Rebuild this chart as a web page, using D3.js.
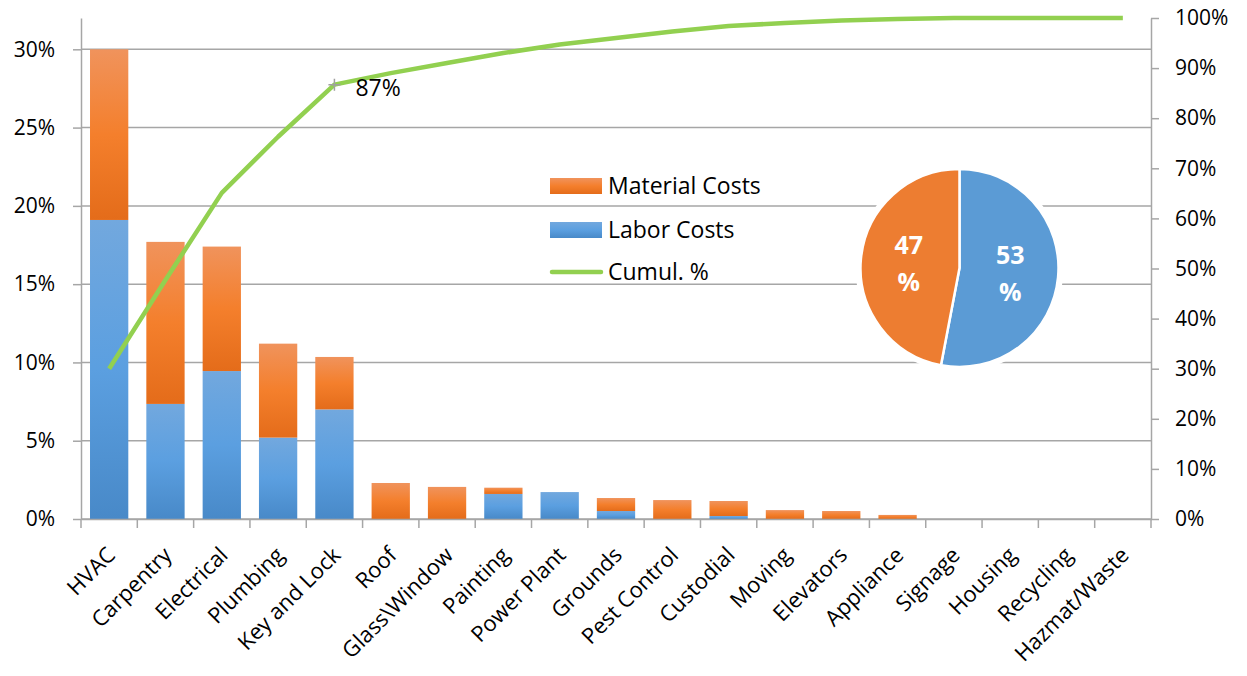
<!DOCTYPE html>
<html>
<head>
<meta charset="utf-8">
<script src="https://cdn.jsdelivr.net/npm/d3@7"></script>
<style>
  body { margin: 0; background: #fff; }
  text { font-family: "Open Sans", sans-serif; fill: #000; }
</style>
</head>
<body>
<div id="chart"></div>
<script>
// categories, sorted by total share of cost
const categories = [
  "HVAC", "Carpentry", "Electrical", "Plumbing", "Key and Lock", "Roof",
  "Glass\\Window", "Painting", "Power Plant", "Grounds", "Pest Control",
  "Custodial", "Moving", "Elevators", "Appliance", "Signage", "Housing",
  "Recycling", "Hazmat/Waste",
];
// share of total cost, in %
const laborCosts = [19.1, 7.35, 9.45, 5.2, 7.0, 0, 0, 1.6, 1.72, 0.51, 0, 0.19, 0, 0, 0, 0, 0, 0, 0];
const materialCosts = [10.9, 10.35, 7.95, 6.0, 3.35, 2.3, 2.05, 0.4, 0, 0.83, 1.21, 0.96, 0.57, 0.51, 0.26, 0, 0, 0, 0];
const cumulPct = [30, 47.7, 65.1, 76.3, 86.7, 89.0, 91.0, 93.0, 94.7, 96.0, 97.3, 98.4, 99.0, 99.5, 99.8, 100, 100, 100, 100];
const leftTicks = [0, 5, 10, 15, 20, 25, 30];
const rightTicks = [0, 10, 20, 30, 40, 50, 60, 70, 80, 90, 100];
// labor vs material split
const pieNames = ["Labor Costs", "Material Costs"];
const pieValues = [53, 47];
const markedIndex = 4; // "87%" callout

const W = 1247, H = 676;
const plotLeft = 81, plotRight = 1151, plotTop = 18, plotBottom = 519;
const gridColor = "#a6a6a6";

const svg = d3.select("#chart").append("svg")
  .attr("width", W).attr("height", H);

// gradients like the office fill
const defs = svg.append("defs");
const addGrad = (id, stops) => {
  const g = defs.append("linearGradient").attr("id", id)
    .attr("x1", 0).attr("y1", 0).attr("x2", 0).attr("y2", 1);
  stops.forEach(([o, c]) => g.append("stop").attr("offset", o).attr("stop-color", c));
};
addGrad("gOrange", [["0%", "#f0935c"], ["50%", "#f47f2c"], ["100%", "#e46c1a"]]);
addGrad("gBlue", [["0%", "#72a8de"], ["50%", "#5b9fe0"], ["100%", "#4889c8"]]);

const x = d3.scaleBand().domain(categories).range([plotLeft, plotRight])
  .paddingInner(0.32).paddingOuter(0.16);
const y = d3.scaleLinear().domain([0, 32]).range([plotBottom, plotTop]);
const y2 = d3.scaleLinear().domain([0, 100]).range([plotBottom, plotTop]);

// gridlines
svg.append("g").selectAll("line").data(leftTicks).join("line")
  .attr("x1", plotLeft).attr("x2", plotRight)
  .attr("y1", (d) => y(d)).attr("y2", (d) => y(d))
  .attr("stroke", gridColor).attr("stroke-width", 1.5);

// stacked bars
const barG = svg.append("g");
categories.forEach((c, i) => {
  const lab = laborCosts[i], mat = materialCosts[i];
  if (lab > 0) {
    barG.append("rect")
      .attr("x", x(c)).attr("width", x.bandwidth())
      .attr("y", y(lab)).attr("height", y(0) - y(lab))
      .attr("fill", "url(#gBlue)");
  }
  if (mat > 0) {
    barG.append("rect")
      .attr("x", x(c)).attr("width", x.bandwidth())
      .attr("y", y(lab + mat)).attr("height", y(lab) - y(lab + mat))
      .attr("fill", "url(#gOrange)");
  }
});

// axes
const axisStyle = (g) => {
  g.attr("font-family", null);
  g.select(".domain").attr("stroke", gridColor).attr("stroke-width", 1.5);
  g.selectAll(".tick line").attr("stroke", gridColor).attr("stroke-width", 1.5);
  g.selectAll("text").style("font-size", "21px").attr("fill", "#000");
};

svg.append("g")
  .attr("transform", "translate(" + plotLeft + ",0)")
  .call(d3.axisLeft(y).tickValues(leftTicks).tickFormat((d) => d + "%")
    .tickSize(8).tickSizeOuter(0).tickPadding(18))
  .call(axisStyle);

svg.append("g")
  .attr("transform", "translate(" + plotRight + ",0)")
  .call(d3.axisRight(y2).tickValues(rightTicks).tickFormat((d) => d + "%")
    .tickSize(8).tickSizeOuter(0).tickPadding(16))
  .call(axisStyle);

const xAxis = svg.append("g")
  .attr("transform", "translate(0," + plotBottom + ")")
  .call(d3.axisBottom(x).tickSize(0).tickSizeOuter(0))
  .call(axisStyle);
xAxis.selectAll("text")
  .style("font-size", "22px")
  .attr("text-anchor", "end")
  .attr("y", 0).attr("dy", "0.35em")
  .attr("transform", "translate(2,32) rotate(-45)");

// category boundary ticks
const gap = (x.step() - x.bandwidth()) / 2;
const bounds = categories.map((c) => x(c) - gap)
  .concat([x(categories[categories.length - 1]) + x.bandwidth() + gap]);
svg.append("g").selectAll("line").data(bounds).join("line")
  .attr("x1", (d) => d).attr("x2", (d) => d)
  .attr("y1", plotBottom).attr("y2", plotBottom + 9)
  .attr("stroke", gridColor).attr("stroke-width", 1.5);

// cumulative line
const cx = (i) => x(categories[i]) + x.bandwidth() / 2;
svg.append("path")
  .datum(cumulPct)
  .attr("fill", "none")
  .attr("stroke", "#92d050")
  .attr("stroke-width", 4.5)
  .attr("stroke-linejoin", "round")
  .attr("d", d3.line().x((d, i) => cx(i)).y((d) => y2(d)));

// marker + callout
const mx = cx(markedIndex), my = y2(cumulPct[markedIndex]);
svg.append("path")
  .attr("d", `M${mx - 6},${my}H${mx + 6}M${mx},${my - 6}V${my + 6}`)
  .attr("stroke", "#a0a0a0").attr("stroke-width", 1.5);
svg.append("text")
  .attr("x", mx + 21).attr("y", my + 11)
  .style("font-size", "23px")
  .text(Math.round(cumulPct[markedIndex]) + "%");

// legend
const legend = svg.append("g").attr("transform", "translate(550,0)");
const legendItems = [
  { name: "Material Costs", fill: "url(#gOrange)", y: 186 },
  { name: "Labor Costs", fill: "url(#gBlue)", y: 230 },
];
legendItems.forEach((d) => {
  legend.append("rect").attr("x", 0).attr("y", d.y - 8)
    .attr("width", 52).attr("height", 16).attr("fill", d.fill);
  legend.append("text").attr("x", 58).attr("y", d.y).attr("dy", "0.35em")
    .style("font-size", "23px").text(d.name);
});
legend.append("line").attr("x1", 2).attr("x2", 51).attr("y1", 272).attr("y2", 272)
  .attr("stroke", "#92d050").attr("stroke-width", 4.5).attr("stroke-linecap", "round");
legend.append("text").attr("x", 58).attr("y", 272).attr("dy", "0.35em")
  .style("font-size", "23px").text("Cumul. %");

// pie of labor vs material
const pieColors = ["#5b9bd5", "#ed7d31"];
const radius = 99;
const pieG = svg.append("g").attr("transform", "translate(959.5,268)");
pieG.append("circle").attr("r", radius + 2).attr("fill", "#fff")
  .attr("stroke", "#fff").attr("stroke-width", 6);
const arcs = d3.pie().sort(null)(pieValues);
const arc = d3.arc().innerRadius(0).outerRadius(radius);
const labelArc = d3.arc().innerRadius(51).outerRadius(51);
pieG.selectAll("path.slice").data(arcs).join("path")
  .attr("class", "slice")
  .attr("d", arc)
  .attr("fill", (d, i) => pieColors[i])
  .attr("stroke", "#fff").attr("stroke-width", 2.5);
arcs.forEach((d) => {
  const [lx, ly] = labelArc.centroid(d);
  const t = pieG.append("text")
    .attr("text-anchor", "middle")
    .style("font-size", "25px").style("font-weight", "bold")
    .style("fill", "#fff");
  t.append("tspan").attr("x", lx).attr("y", ly - 18).attr("dy", "0.35em").text(d.data);
  t.append("tspan").attr("x", lx).attr("y", ly + 19).attr("dy", "0.35em").text("%");
});
</script>
</body>
</html>
